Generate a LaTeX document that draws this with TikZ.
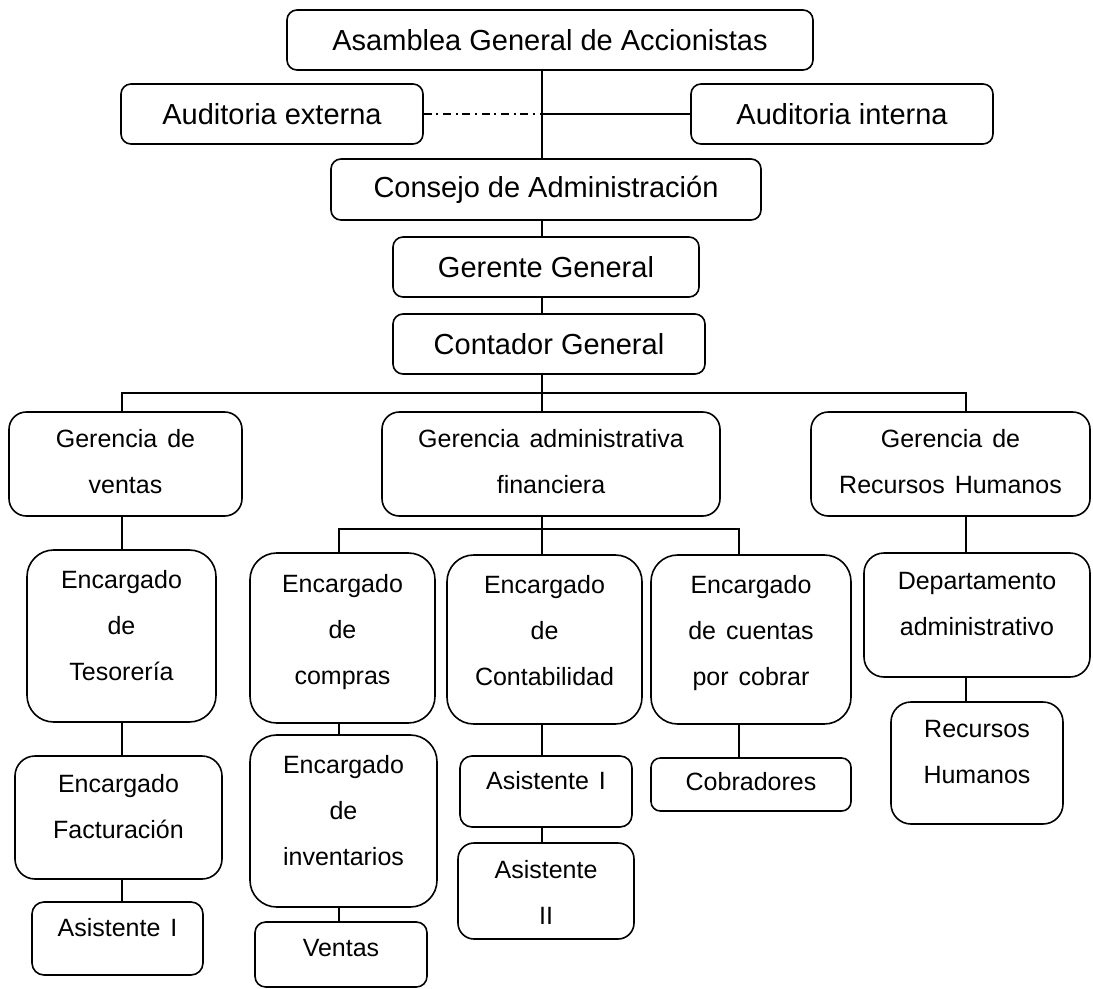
\documentclass[tikz,border=0pt]{standalone}
\usepackage{fontspec}
\setmainfont{Liberation Sans}
\usetikzlibrary{positioning,calc}

\begin{document}
\begin{tikzpicture}[x=0.75pt,y=-0.75pt,
    box/.style={draw, line width=1.2pt, rounded corners=#1, inner sep=0pt, align=center,
      font={\fontsize{21.75pt}{26pt}\selectfont}},
    box/.default=7.5pt,
    txt/.style={align=center, inner sep=0pt,
      font={\fontsize{18.75pt}{34.5pt}\selectfont\spaceskip=7.5pt\relax}},
    link/.style={line width=1.2pt},
    aux/.style={line width=1.1pt, dash pattern=on 6pt off 3.5pt on 1.5pt off 3.5pt}]
    \useasboundingbox (0,0) rectangle (1093,989);

    % top of the chart
    \node[box, minimum width=394.5pt, minimum height=45pt] (asamblea) at (550,40) {Asamblea General de Accionistas};
    \node[box, minimum width=226.5pt, minimum height=45pt] (audext) at (272,114) {Auditoria externa};
    \node[box, minimum width=226.5pt, minimum height=45pt] (audint) at (842,114) {Auditoria interna};
    \node[box, minimum width=322.5pt, minimum height=45.75pt] (consejo) at (546,189.5) {Consejo de Administración};
    \node[box, minimum width=229.5pt, minimum height=45pt] (gerente) at (546,267) {Gerente General};
    \node[box, minimum width=234pt, minimum height=45pt] (contador) at (549,344) {Contador General};

    % gerencias
    \node[box=13pt, minimum width=174.75pt, minimum height=78pt, label={[txt,yshift=2pt]center:Gerencia de\\ventas}] (gventas) at (125.5,464) {};
    \node[box=13pt, minimum width=253.5pt, minimum height=78pt, label={[txt,yshift=2pt]center:Gerencia administrativa\\financiera}] (gadmin) at (551,464) {};
    \node[box=13pt, minimum width=209.25pt, minimum height=78pt, label={[txt,yshift=2pt]center:Gerencia de\\Recursos Humanos}] (grh) at (950.5,464) {};

    % ventas
    \node[box=20pt, minimum width=141.75pt, minimum height=129pt, label={[txt,yshift=8pt]center:Encargado\\de\\Tesorería}] (tesoreria) at (121.5,636) {};
    \node[box=15pt, minimum width=155.25pt, minimum height=92.25pt, label={[txt,yshift=8.5pt]center:Encargado\\Facturación}] (facturacion) at (118.5,817.5) {};
    \node[box=9pt, minimum width=128.25pt, minimum height=54.75pt, label={[txt,yshift=8pt]center:Asistente I}] (asist1a) at (117.5,938.5) {};

    % administrativa financiera
    \node[box=20pt, minimum width=138.75pt, minimum height=127.5pt, label={[txt,yshift=4.5pt]center:Encargado\\de\\compras}] (compras) at (342.5,638) {};
    \node[box=20pt, minimum width=140.25pt, minimum height=129pt, label={[txt,yshift=8pt]center:Encargado\\de\\inventarios}] (inventarios) at (343.5,821) {};
    \node[box=8pt, minimum width=129pt, minimum height=48.75pt, label={[txt,yshift=5pt]center:Ventas}] (ventas) at (341,954.5) {};
    \node[box=20pt, minimum width=146.25pt, minimum height=126.75pt, label={[txt,yshift=7pt]center:Encargado\\de\\Contabilidad}] (contabilidad) at (544.5,639.5) {};
    \node[box=9pt, minimum width=129pt, minimum height=53.25pt, label={[txt,yshift=8pt]center:Asistente I}] (asist1b) at (546,791.5) {};
    \node[box=12pt, minimum width=132pt, minimum height=72pt, label={[txt,yshift=-1pt]center:Asistente\\II}] (asist2) at (546,891) {};
    \node[box=20pt, minimum width=150pt, minimum height=126.75pt, label={[txt,yshift=5pt]center:Encargado\\de cuentas\\por cobrar}] (cuentas) at (751,639.5) {};
    \node[box=7pt, minimum width=150pt, minimum height=39.75pt, label={[txt,yshift=2pt]center:Cobradores}] (cobradores) at (751,784.5) {};

    % recursos humanos
    \node[box=15pt, minimum width=169.5pt, minimum height=93pt, label={[txt,yshift=8pt]center:Departamento\\administrativo}] (depto) at (977,615) {};
    \node[box=15pt, minimum width=129pt, minimum height=91.5pt, label={[txt,yshift=8pt]center:Recursos\\Humanos}] (rrhh) at (977,763) {};

    % connectors
    \coordinate (trunk) at (542,0);
    \coordinate (colA) at (122,0);
    \coordinate (colB) at (339,0);
    \coordinate (colC) at (739,0);
    \coordinate (colD) at (966,0);
    \coordinate (bus) at (542,393);
    \coordinate (busB) at (542,529);

    \draw[link] (asamblea.south -| trunk) -- (consejo.north -| trunk);
    \draw[aux] (audext.east) -- (audext.east -| trunk);
    \draw[link] (audext.east -| trunk) -- (audint.west);
    \draw[link] (consejo.south -| trunk) -- (gerente.north -| trunk);
    \draw[link] (gerente.south -| trunk) -- (contador.north -| trunk);
    \draw[link] (contador.south -| trunk) -- (gadmin.north -| trunk);
    \draw[link] (gventas.north -| colA) |- (bus) -| (grh.north -| colD);
    \draw[link] (gadmin.south -| trunk) -- (contabilidad.north -| trunk);
    \draw[link] (compras.north -| colB) |- (busB) -| (cuentas.north -| colC);
    \draw[link] (gventas.south -| colA) -- (tesoreria.north -| colA);
    \draw[link] (tesoreria.south -| colA) -- (facturacion.north -| colA);
    \draw[link] (facturacion.south -| colA) -- (asist1a.north -| colA);
    \draw[link] (compras.south -| colB) -- (inventarios.north -| colB);
    \draw[link] (inventarios.south -| colB) -- (ventas.north -| colB);
    \draw[link] (contabilidad.south -| trunk) -- (asist1b.north -| trunk);
    \draw[link] (asist1b.south -| trunk) -- (asist2.north -| trunk);
    \draw[link] (cuentas.south -| colC) -- (cobradores.north -| colC);
    \draw[link] (grh.south -| colD) -- (depto.north -| colD);
    \draw[link] (depto.south -| colD) -- (rrhh.north -| colD);
\end{tikzpicture}
\end{document}
